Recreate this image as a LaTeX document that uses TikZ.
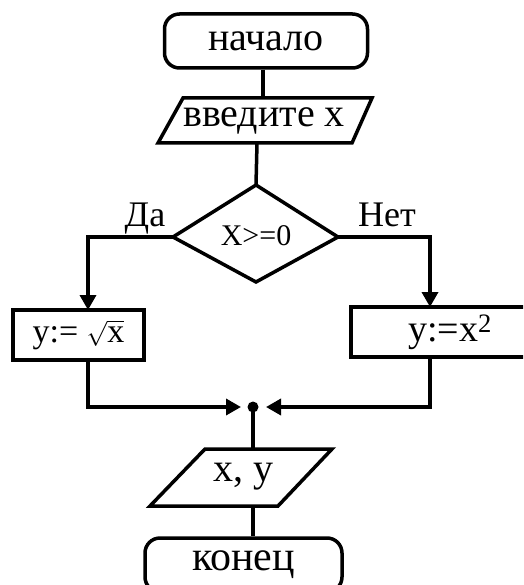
\documentclass[tikz,border=0pt]{standalone}
\usepackage{fontspec}
\setmainfont{Liberation Serif}
\usetikzlibrary{arrows.meta}
\newcommand{\fs}[1]{\fontsize{#1}{#1}\selectfont}
\begin{document}
\begin{tikzpicture}[x=1pt,y=-1pt,line width=3.5pt,
  txt/.style={inner sep=0pt},
  term/.style={draw, rounded corners=15pt, inner sep=0pt},
  procbox/.style={draw, inner sep=0pt},
  arr/.style={-{Triangle[length=15pt,width=16pt]}},
  lbl/.style={inner sep=0pt}]
\useasboundingbox (0,0) rectangle (523,585);
\clip (0,0) rectangle (523,585);
% start terminal
\node[term, minimum width=203pt, minimum height=54pt, font=\fs{40}] (start) at (266,41) {начало};
% input parallelogram
\draw (183,98) -- (372,98) -- (352,143) -- (158,143) -- cycle;
\node[txt, font=\fs{40}] (inp) at (264,121) {введите x};
\coordinate (inTop) at (263,98);
\coordinate (inBot) at (257,143);
% decision diamond
\draw (256,185) -- (338,237) -- (256,282) -- (173,237) -- cycle;
\node[txt, font=\fs{30}] (cond) at (256,236) {X>=0};
\coordinate (dTop) at (256,185);
\coordinate (dLeft) at (173,237);
\coordinate (dRight) at (338,237);
% process boxes
\node[procbox, minimum width=131pt, minimum height=50pt, font=\fs{34}] (yes) at (78.5,335) {y:= $\sqrt{\mbox{x}}$};
\node[procbox, minimum width=198pt, minimum height=50pt, font=\fs{38}] (no) at (450,332) {y:=x\textsuperscript{2}};
\coordinate (yesTop) at (88,310);
\coordinate (yesBot) at (88,360);
\coordinate (noTop) at (430,307);
\coordinate (noBot) at (430,357);
% labels
\node[lbl, anchor=base, font=\fs{36}] (da) at (145,226) {Да};
\node[lbl, anchor=base, font=\fs{36}] (net) at (387,226) {Нет};
% junction
\coordinate (j) at (253,407);
\coordinate (jl) at (241,407);
\coordinate (jr) at (266,407);
\fill (j) circle (5.5pt);
% output parallelogram
\draw (205,449) -- (332,449) -- (278,506) -- (150,506) -- cycle;
\node[txt, font=\fs{40}] (out) at (243,477) {x, y};
\coordinate (oTop) at (253,449);
\coordinate (oBot) at (253,506);
% end terminal
\node[term, minimum width=197pt, minimum height=54pt, font=\fs{42}] (stop) at (243.5,565) {конец};
% connectors
\draw (start.south -| inTop) -- (inTop);
\draw (inBot) -- (dTop);
\draw[arr] (dLeft) -| (yesTop);
\draw[arr] (dRight) -| (noTop);
\draw[arr] (yesBot) |- (jl);
\draw[arr] (noBot) |- (jr);
\draw (j) -- (oTop);
\draw (oBot) -- (stop.north -| oBot);
\end{tikzpicture}
\end{document}
